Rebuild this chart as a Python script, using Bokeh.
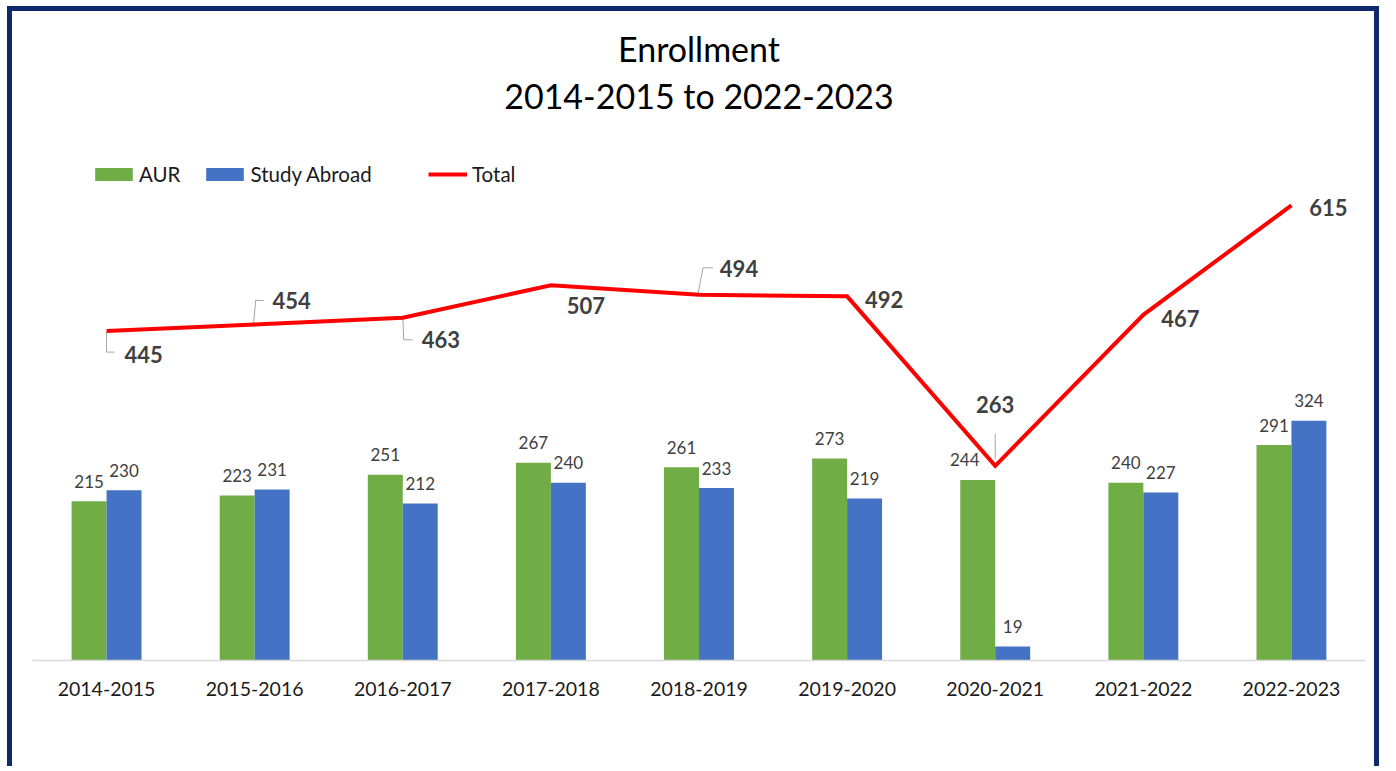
from bokeh.plotting import figure
from bokeh.models import Range1d, FixedTicker, Legend, LegendItem, Label, ColumnDataSource
from bokeh.core.properties import value
from bokeh.embed import file_html
from bokeh.resources import INLINE

# ---- data ----
years = ["2014-2015", "2015-2016", "2016-2017", "2017-2018", "2018-2019",
         "2019-2020", "2020-2021", "2021-2022", "2022-2023"]
aur = [215, 223, 251, 267, 261, 273, 244, 240, 291]
study_abroad = [230, 231, 212, 240, 233, 219, 19, 227, 324]
total = [445, 454, 463, 507, 494, 492, 263, 467, 615]

# ---- style ----
FONT = "Lato"
GREEN = "#70AD47"
BLUE = "#4472C4"
RED = "#FF0000"
LABEL_COL = "#404040"
NAVY = "#10296b"
# pixel offsets of the total labels (dx right, dy down) from their points
tot_dx = [37, 37, 38, 35, 40, 37, 0, 37, 37]
tot_dy = [23, -24, 22, 20, -26, 3, -61, 4, 2]
aur_lbl_dx = [0, 0, 0, 0, 0, 0, -13, 0, 0]

W, H = 1372, 760          # canvas size (the 5px border is drawn outside it)
BORDER = 5
MB_L, MB_R, MB_T, MB_B = 20, 19, 0, 111
frame_w = W - MB_L - MB_R
frame_h = H - MB_T - MB_B
PX_PER_UNIT = 0.7402
YMAX = frame_h / PX_PER_UNIT

p = figure(width=W, height=H, output_backend="svg", toolbar_location=None,
           x_range=Range1d(-0.5, len(years) - 0.5), y_range=Range1d(0, YMAX),
           min_border_left=MB_L, min_border_right=MB_R,
           min_border_top=MB_T, min_border_bottom=MB_B)
p.styles = {"border-top": f"{BORDER}px solid {NAVY}", "border-left": f"{BORDER}px solid {NAVY}",
            "border-right": f"{BORDER}px solid {NAVY}", "margin-top": "6px", "margin-left": "7px"}
p.outline_line_color = None
p.background_fill_color = "white"
p.border_fill_color = "white"
p.grid.visible = False
p.yaxis.visible = False

ax = p.xaxis[0]
ax.ticker = FixedTicker(ticks=list(range(len(years))))
ax.major_label_overrides = {i: y for i, y in enumerate(years)}
ax.major_tick_line_color = None
ax.minor_tick_line_color = None
ax.axis_line_color = "#D9D9D9"
ax.axis_line_width = 1.5
ax.major_label_text_font = FONT
ax.major_label_text_font_size = "19.5px"
ax.major_label_text_color = "#1a1a1a"
ax.major_label_standoff = 15

bw = 0.236
xs = list(range(len(years)))
src = ColumnDataSource(dict(
    xg=[x - bw / 2 for x in xs], xb=[x + bw / 2 for x in xs], x=xs,
    aur=aur, sa=study_abroad, total=total,
    aur_t=[str(v) for v in aur], sa_t=[str(v) for v in study_abroad],
    tot_t=[str(v) for v in total], dx=tot_dx, dy=tot_dy, adx=aur_lbl_dx))

r_aur = p.vbar(x="xg", top="aur", width=bw, source=src, fill_color=GREEN, line_color=None)
r_sa = p.vbar(x="xb", top="sa", width=bw, source=src, fill_color=BLUE, line_color=None)

p.text(x="xg", y="aur", text="aur_t", source=src, x_offset="adx", y_offset=-20, text_align="center",
       text_baseline="middle", text_font=value(FONT), text_font_size="17px", text_color=LABEL_COL)
p.text(x="xb", y="sa", text="sa_t", source=src, y_offset=-20, text_align="center",
       text_baseline="middle", text_font=value(FONT), text_font_size="17px", text_color=LABEL_COL)

# leader lines for some total labels (pixel paths converted into data units)
ppx = frame_w / len(years)
ppy = PX_PER_UNIT
leaders = {0: [(0, 1), (0, 21), (8, 21)],
           1: [(-1, -1), (1, -24), (9, -24)],
           2: [(0, 0), (1, 22), (10, 22)],
           4: [(-1, -1), (4, -27), (14, -27)],
           6: [(0, -7), (0, -32)]}
lx, ly = [], []
for i, path in leaders.items():
    lx.append([xs[i] + dx / ppx for dx, dy in path])
    ly.append([total[i] - dy / ppy for dx, dy in path])
p.multi_line(lx, ly, line_color="#A6A6A6", line_width=1)

r_tot = p.line(x="x", y="total", source=src, line_color=RED, line_width=4, line_join="miter")
p.text(x="x", y="total", text="tot_t", source=src, x_offset="dx", y_offset="dy",
       text_align="center", text_baseline="middle", text_font=value(FONT),
       text_font_size="22px", text_font_style="bold", text_color=LABEL_COL)

leg_common = dict(orientation="horizontal", padding=0, margin=0, border_line_color=None,
                  background_fill_alpha=0, label_text_font=FONT, label_text_font_size="20.5px",
                  label_text_color="#1a1a1a", label_height=20)
legend1 = Legend(items=[LegendItem(label="AUR", renderers=[r_aur]),
                        LegendItem(label="Study Abroad", renderers=[r_sa])],
                 location=(58, 474), glyph_width=47, glyph_height=16, label_standoff=2,
                 spacing=21, **leg_common)
legend2 = Legend(items=[LegendItem(label="Total", renderers=[r_tot])],
                 location=(396, 474), glyph_width=39, glyph_height=16, label_standoff=5,
                 **leg_common)
p.add_layout(legend1, "center")
p.add_layout(legend2, "center")

# titles (screen units measured up from the frame bottom)
frame_bottom_page = 660
for txt, yy in [("Enrollment", 48), ("2014-2015 to 2022-2023", 95)]:
    p.add_layout(Label(x=frame_w / 2, y=frame_bottom_page - yy, x_units="screen", y_units="screen",
                       text=txt, text_align="center", text_baseline="middle",
                       text_font=FONT, text_font_size="34px", text_color="#000000"))

open("out.html", "w").write(file_html(p, INLINE))
